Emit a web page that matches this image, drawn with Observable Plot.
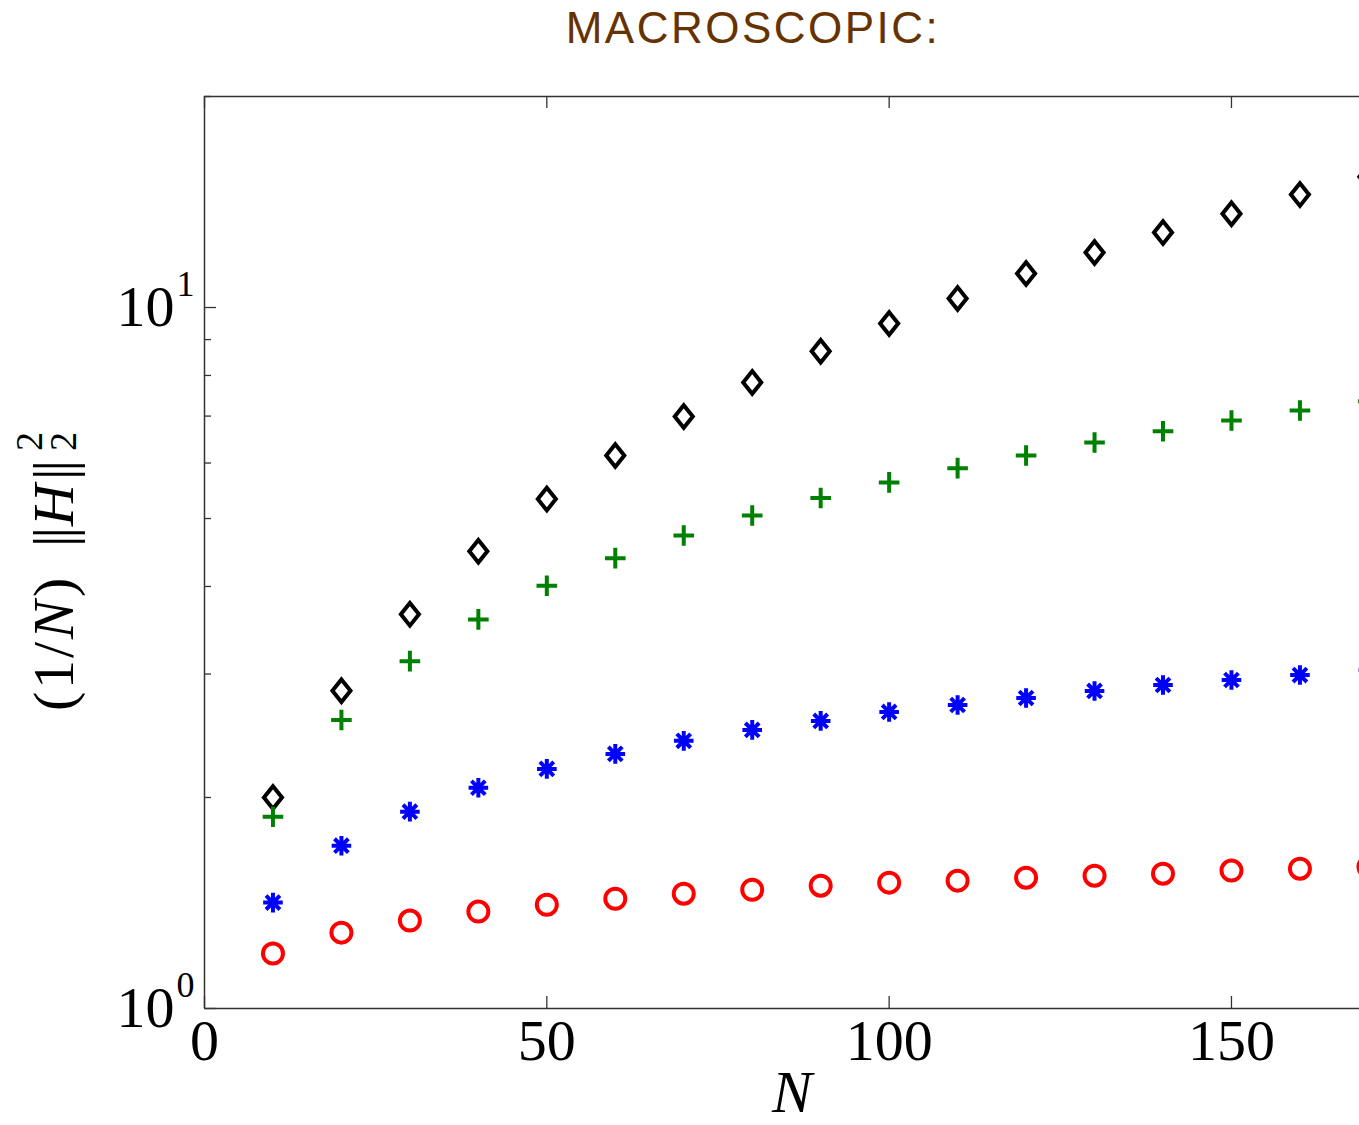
<!DOCTYPE html>
<html>
<head>
<meta charset="utf-8">
<script src="https://cdn.jsdelivr.net/npm/d3@7"></script>
<script src="https://cdn.jsdelivr.net/npm/@observablehq/plot@0.6"></script>
<style>
  html, body { margin: 0; padding: 0; background: #fff; overflow: hidden; }
  #title {
    width: 1359px; height: 60px; box-sizing: border-box;
    padding-top: 6px; padding-left: 147px; text-align: center;
    font-family: "Liberation Sans", Arial, sans-serif; font-size: 44px; line-height: 1;
    letter-spacing: 2.5px; color: #663300;
  }
</style>
</head>
<body>
<div id="title">MACROSCOPIC:</div>
<div id="chart"></div>
<script>
// Problem size N
const N = [10, 20, 30, 40, 50, 60, 70, 80, 90, 100, 110, 120, 130, 140, 150, 160, 170];

// (1/N) ||H||_2^2 for the four cases
const diamondSeries  = [2.00, 2.84, 3.65, 4.49, 5.33, 6.15, 6.99, 7.82, 8.66, 9.49, 10.30, 11.18, 11.98, 12.79, 13.61, 14.49, 15.37];
const plusSeries     = [1.877, 2.58, 3.13, 3.59, 4.01, 4.39, 4.73, 5.05, 5.35, 5.63, 5.90, 6.15, 6.42, 6.66, 6.90, 7.13, 7.35];
const asteriskSeries = [1.416, 1.707, 1.909, 2.065, 2.197, 2.308, 2.409, 2.497, 2.572, 2.649, 2.710, 2.773, 2.838, 2.894, 2.942, 2.990, 3.040];
const circleSeries   = [1.198, 1.283, 1.335, 1.375, 1.406, 1.434, 1.458, 1.477, 1.497, 1.512, 1.522, 1.537, 1.547, 1.557, 1.573, 1.583, 1.593];

// Axis ticks
const xTicks = [0, 50, 100, 150];
const yMajor = [1, 10];
const yMinor = [2, 3, 4, 5, 6, 7, 8, 9, 20];

const serif = "'Liberation Serif', 'Times New Roman', serif";
const frameColor = "#333";

const W = 1359, H = 1065;
const mL = 204, mR = 0, mT = 36, mB = 117;
const plotW = W - mL - mR, plotH = H - mT - mB;

// Marker shapes (size = r² π, as passed by Plot's dot mark)
const rad = size => Math.sqrt(size / Math.PI);
const tallDiamond = {draw(ctx, size) {
  const r = rad(size), w = r * 0.8;
  ctx.moveTo(0, -r); ctx.lineTo(w, 0); ctx.lineTo(0, r); ctx.lineTo(-w, 0); ctx.closePath();
}};
const plusMark = {draw(ctx, size) {
  const r = rad(size);
  ctx.moveTo(-r, 0); ctx.lineTo(r, 0); ctx.moveTo(0, -r); ctx.lineTo(0, r);
}};
const starMark = {draw(ctx, size) {
  const r = rad(size);
  for (let k = 0; k < 4; k++) {
    const a = k * Math.PI / 4, c = Math.cos(a) * r, s = Math.sin(a) * r;
    ctx.moveTo(-c, -s); ctx.lineTo(c, s);
  }
}};
const ringMark = {draw(ctx, size) {
  const r = rad(size);
  ctx.moveTo(r, 0); ctx.arc(0, 0, r, 0, 2 * Math.PI);
}};

const rows = s => N.map((n, i) => ({n, v: s[i]}));

const plot = Plot.plot({
  width: W, height: H,
  marginLeft: mL, marginRight: mR, marginTop: mT, marginBottom: mB,
  style: {background: "white", overflow: "hidden"},
  x: {domain: [0, 168.7], axis: null},
  y: {type: "log", domain: [1, 20], axis: null},
  marks: [
    // box (top, bottom, left)
    Plot.ruleY([1, 20], {stroke: frameColor, strokeWidth: 1.5}),
    Plot.ruleX([0], {stroke: frameColor, strokeWidth: 1.5}),
    // inward ticks
    Plot.tickX(xTicks, {x: d => d, insetTop: plotH - 12, stroke: frameColor, strokeWidth: 1.3}),
    Plot.tickX(xTicks, {x: d => d, insetBottom: plotH - 12, stroke: frameColor, strokeWidth: 1.3}),
    Plot.tickY(yMajor, {y: d => d, insetRight: plotW - 12, stroke: frameColor, strokeWidth: 1.3}),
    Plot.tickY(yMinor, {y: d => d, insetRight: plotW - 7, stroke: frameColor, strokeWidth: 1.3}),
    // x tick labels
    Plot.text(xTicks, {x: d => d, text: d => String(d), frameAnchor: "bottom", lineAnchor: "top",
      dy: 10, fontSize: 58, fontFamily: serif, fill: "black"}),
    // y tick labels: 10 with exponent
    Plot.text(yMajor, {y: d => d, text: () => "10", frameAnchor: "left", textAnchor: "end",
      lineAnchor: "middle", dx: -30, fontSize: 58, fontFamily: serif, fill: "black"}),
    Plot.text(yMajor, {y: d => d, text: d => String(Math.round(Math.log10(d))), frameAnchor: "left",
      textAnchor: "start", lineAnchor: "bottom", dx: -28, dy: -12, fontSize: 36, fontFamily: serif, fill: "black"}),
    // x label
    Plot.text(["N"], {text: d => d, frameAnchor: "bottom", lineAnchor: "bottom", dx: 10, dy: 103,
      fontSize: 60, fontStyle: "italic", fontFamily: serif, fill: "black"}),
    // data
    Plot.dot(rows(circleSeries), {x: "n", y: "v", symbol: ringMark, r: 10, stroke: "#ff0000", fill: "none", strokeWidth: 4}),
    Plot.dot(rows(asteriskSeries), {x: "n", y: "v", symbol: starMark, r: 9.8, stroke: "#0000ff", fill: "none", strokeWidth: 4}),
    Plot.dot(rows(diamondSeries), {x: "n", y: "v", symbol: tallDiamond, r: 11.3, stroke: "black", fill: "none", strokeWidth: 4}),
    Plot.dot(rows(plusSeries), {x: "n", y: "v", symbol: plusMark, r: 10.3, stroke: "#008000", fill: "none", strokeWidth: 4})
  ]
});

// y-axis label: (1/N) ||H||_2^2, reading bottom to top.
// In the rotated frame, x runs upward along the page: x = 60 - pageY (svg sits 60px below the top).
const svg = d3.select(plot);
const yl = svg.append("text")
  .attr("transform", "translate(73,0) rotate(-90)")
  .attr("text-anchor", "start")
  .attr("font-family", serif).attr("font-size", 58).attr("fill", "black");
const at = pageY => 60 - pageY;
yl.append("tspan").attr("x", at(711)).text("(");
yl.append("tspan").attr("x", at(689)).text("1");
yl.append("tspan").attr("x", at(658)).text("/");
yl.append("tspan").attr("x", at(639)).attr("font-style", "italic").text("N");
yl.append("tspan").attr("x", at(597)).text(")");
yl.append("tspan").attr("x", at(547)).attr("letter-spacing", -3).text("||");
yl.append("tspan").attr("x", at(526)).attr("font-style", "italic").text("H");
yl.append("tspan").attr("x", at(480)).attr("letter-spacing", -3).text("||");
yl.append("tspan").attr("x", at(451)).attr("dy", -31).attr("font-size", 38).text("2");
yl.append("tspan").attr("x", at(451)).attr("dy", 34).attr("font-size", 38).text("2");

document.getElementById("chart").appendChild(plot);
</script>
</body>
</html>
